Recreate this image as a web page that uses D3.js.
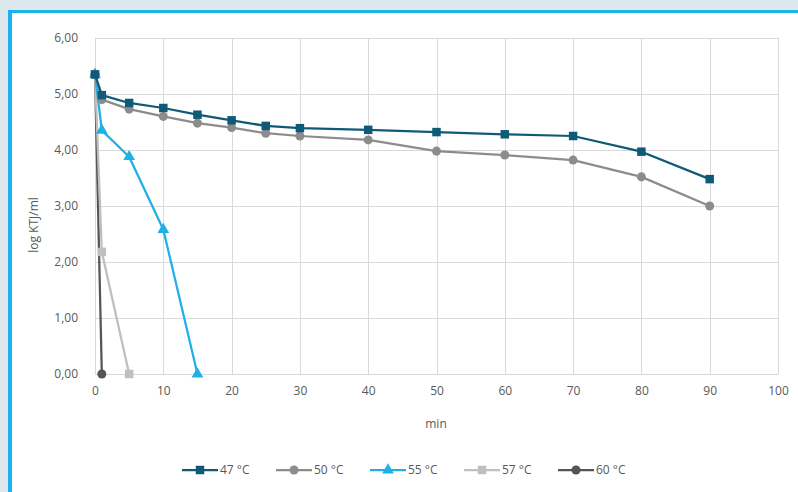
<!DOCTYPE html>
<html><head><meta charset="utf-8">
<script src="https://cdn.jsdelivr.net/npm/d3@7"></script>
<style>
html,body{margin:0;padding:0;background:#dde8ee;}
svg{display:block;}
text{font-family:"Open Sans","Noto Sans",sans-serif;fill:#595959;}
</style></head>
<body>
<svg id="c" width="798" height="492"></svg>
<script>
const minutes = [0, 1, 5, 10, 15, 20, 25, 30, 40, 50, 60, 70, 80, 90];
const s47x = [0, 1, 5, 10, 15, 20, 25, 30, 40, 50, 60, 70, 80, 90];
const s47 = [5.35, 4.98, 4.84, 4.75, 4.63, 4.53, 4.43, 4.39, 4.36, 4.32, 4.28, 4.25, 3.97, 3.48];
const s50x = [0, 1, 5, 10, 15, 20, 25, 30, 40, 50, 60, 70, 80, 90];
const s50 = [5.35, 4.90, 4.73, 4.60, 4.48, 4.40, 4.30, 4.25, 4.18, 3.98, 3.91, 3.82, 3.52, 3.00];
const s55x = [0, 1, 5, 10, 15];
const s55 = [5.35, 4.35, 3.88, 2.58, 0];
const s57x = [0, 1, 5];
const s57 = [5.35, 2.18, 0];
const s60x = [0, 1];
const s60 = [5.35, 0];
const seriesNames = ["47 °C", "50 °C", "55 °C", "57 °C", "60 °C"];
const seriesColors = ["#0f5a76", "#8c8c8c", "#1fb0e6", "#bfbfbf", "#555555"];
const seriesMarkers = ["square", "circle", "triangle", "square", "circle"];
const xTicks = [0, 10, 20, 30, 40, 50, 60, 70, 80, 90, 100];
const yTicks = [0, 1, 2, 3, 4, 5, 6];

const series = [
  {x: s47x, y: s47}, {x: s50x, y: s50}, {x: s55x, y: s55}, {x: s57x, y: s57}, {x: s60x, y: s60}
].map((s, i) => ({name: seriesNames[i], color: seriesColors[i], marker: seriesMarkers[i],
  pts: s.x.map((xv, j) => [xv, s.y[j]])}));

const svg = d3.select("#c");
// frame
svg.append("rect").attr("x", 8).attr("y", 10).attr("width", 790).attr("height", 482).attr("fill", "#1cb2ec");
svg.append("rect").attr("x", 12).attr("y", 13).attr("width", 786).attr("height", 479).attr("fill", "#ffffff");

const x = d3.scaleLinear().domain([0, 100]).range([95, 778]);
const y = d3.scaleLinear().domain([0, 6]).range([374, 38]);

const g = svg.append("g");
g.selectAll(".hg").data(yTicks).join("line")
  .attr("x1", x(0)).attr("x2", x(100)).attr("y1", d => y(d) + 0.5).attr("y2", d => y(d) + 0.5)
  .attr("stroke", "#d9d9d9").attr("stroke-width", 1);
g.selectAll(".vg").data(xTicks).join("line")
  .attr("y1", y(0)).attr("y2", y(6)).attr("x1", d => Math.round(x(d)) + 0.5).attr("x2", d => Math.round(x(d)) + 0.5)
  .attr("stroke", "#d9d9d9").attr("stroke-width", 1);

const fmt = d => d3.format(".2f")(d).replace(".", ",");
const yAxis = svg.append("g").attr("transform", `translate(${x(0)},0)`)
  .call(d3.axisLeft(y).tickValues(yTicks).tickFormat(fmt).tickSize(0).tickPadding(17));
yAxis.select(".domain").remove();
yAxis.selectAll("text").attr("font-size", 12).attr("fill", "#595959").style("font-family", '"Open Sans",sans-serif');

const xAxis = svg.append("g").attr("transform", `translate(0,${y(0)})`)
  .call(d3.axisBottom(x).tickValues(xTicks).tickFormat(d3.format("d")).tickSize(0).tickPadding(12));
xAxis.select(".domain").remove();
xAxis.selectAll("text").attr("font-size", 12).attr("fill", "#595959").style("font-family", '"Open Sans",sans-serif');

svg.append("text").attr("x", 436).attr("y", 428).attr("text-anchor", "middle").attr("font-size", 12).text("min");
svg.append("text").attr("transform", "translate(38,225) rotate(-90)").attr("text-anchor", "middle").attr("font-size", 12).text("log KTJ/ml");

const line = d3.line().x(d => x(d[0])).y(d => y(d[1]));
const sym = {square: d3.symbolSquare, circle: d3.symbolCircle, triangle: d3.symbolTriangle};
const symSize = {square: 72, circle: 64, triangle: 60};

series.slice().reverse().forEach(s => {
  const sg = svg.append("g");
  sg.append("path").attr("d", line(s.pts)).attr("fill", "none").attr("stroke", s.color).attr("stroke-width", 2.25).attr("stroke-linejoin", "round");
  sg.selectAll("path.m").data(s.pts).join("path").attr("class", "m")
    .attr("transform", d => `translate(${x(d[0])},${y(d[1])})`)
    .attr("d", d3.symbol().type(sym[s.marker]).size(symSize[s.marker]))
    .attr("fill", s.color);
});

const lg = svg.append("g").attr("transform", "translate(182,470)");
series.forEach((s, i) => {
  const it = lg.append("g").attr("transform", `translate(${i * 94},0)`);
  it.append("line").attr("x1", 0).attr("x2", 36).attr("y1", 0).attr("y2", 0).attr("stroke", s.color).attr("stroke-width", 2.25);
  it.append("path").attr("transform", "translate(18,0)").attr("d", d3.symbol().type(sym[s.marker]).size(symSize[s.marker])).attr("fill", s.color);
  it.append("text").attr("x", 38).attr("y", 4).attr("font-size", 12).text(s.name);
});
</script>
</body></html>
